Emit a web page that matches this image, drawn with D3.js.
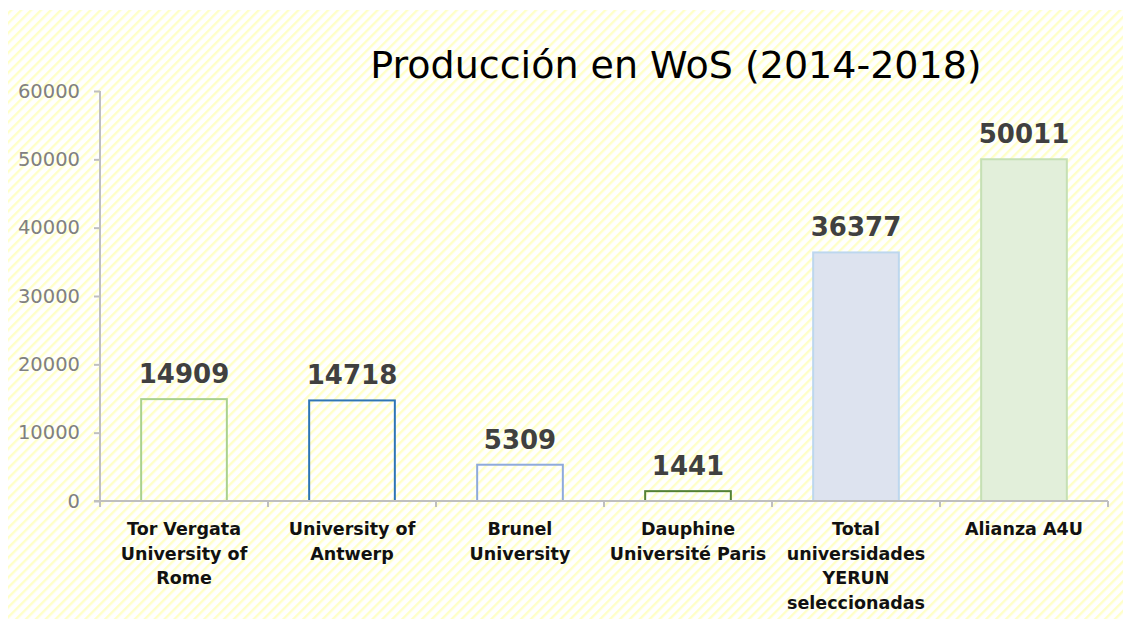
<!DOCTYPE html>
<html lang="es">
<head>
  <meta charset="UTF-8">
  <title>Producción en WoS</title>
  <style>
    html, body { margin: 0; background: #fff; }
    svg { display: block; font-family: 'DejaVu Sans', Verdana, sans-serif; }
  </style>
  <script src="https://cdn.jsdelivr.net/npm/d3@7"></script>
</head>
<body>
  <script>
    const width = 1131
    const height = 627

    // datos
    const categories = [
      ['Tor Vergata', 'University of', 'Rome'],
      ['University of', 'Antwerp'],
      ['Brunel', 'University'],
      ['Dauphine', 'Université Paris'],
      ['Total', 'universidades', 'YERUN', 'seleccionadas'],
      ['Alianza A4U']
    ]
    const values = [14909, 14718, 5309, 1441, 36377, 50011]
    const yTicks = [0, 10000, 20000, 30000, 40000, 50000, 60000]

    const strokes = ['#a9d18e', '#2e75b6', '#8faadc', '#548235', '#bdd7ee', '#c5e0b4']
    const fills = ['none', 'none', 'none', 'none', '#dde3ef', '#e2efda']

    const margin = { left: 100, right: 23, top: 91, bottom: 127 }

    const svg = d3.select('body').append('svg')
      .attr('width', width)
      .attr('height', height)

    // fondo rayado
    const pat = svg.append('defs').append('pattern')
      .attr('id', 'stripes')
      .attr('patternUnits', 'userSpaceOnUse')
      .attr('width', 7)
      .attr('height', 7)
      .attr('patternTransform', 'rotate(45)')
    pat.append('rect').attr('width', 7).attr('height', 7).attr('fill', '#fff')
    pat.append('rect').attr('width', 2.4).attr('height', 7).attr('fill', '#ffffc8')

    svg.append('rect')
      .attr('x', 8).attr('y', 10)
      .attr('width', 1115).attr('height', 609)
      .attr('fill', 'url(#stripes)')

    const idx = d3.range(values.length)
    const x = d3.scaleBand()
      .domain(idx)
      .range([margin.left, width - margin.right])
      .paddingInner(0.49)
      .paddingOuter(0.245)

    const y = d3.scaleLinear()
      .domain([0, 60000])
      .range([height - margin.bottom + 1, margin.top])

    // eje Y
    const gy = svg.append('g')
      .attr('transform', `translate(${margin.left},0)`)
      .call(d3.axisLeft(y).tickValues(yTicks).tickSize(6).tickPadding(14).tickFormat(d3.format('d')))
    gy.select('.domain').remove()
    gy.append('line')
      .attr('y1', y(60000)).attr('y2', y(0) + 6)
      .attr('stroke', '#bfbfbf').attr('stroke-width', 2)
    gy.selectAll('.tick line').attr('stroke', '#bfbfbf').attr('stroke-width', 2)
    gy.selectAll('.tick text')
      .attr('fill', '#808080')
      .style('font-size', '19.5px')
      .style('font-family', "'DejaVu Sans', Verdana, sans-serif")

    // barras
    svg.selectAll('.bar')
      .data(values)
      .join('rect')
      .attr('class', 'bar')
      .attr('x', (d, i) => x(i))
      .attr('y', d => y(d))
      .attr('width', x.bandwidth())
      .attr('height', d => y(0) - y(d))
      .attr('fill', (d, i) => fills[i])
      .attr('stroke', (d, i) => strokes[i])
      .attr('stroke-width', 2)

    // eje X (marcas en los límites de categoría)
    const step = x.step()
    const x0 = x(0) - step * 0.245
    const gx = svg.append('g')
    gx.append('line')
      .attr('x1', margin.left - 6).attr('x2', x0 + step * values.length)
      .attr('y1', y(0)).attr('y2', y(0))
      .attr('stroke', '#bfbfbf').attr('stroke-width', 2)
    gx.selectAll('.xt')
      .data(d3.range(1, values.length + 1))
      .join('line')
      .attr('x1', i => x0 + step * i).attr('x2', i => x0 + step * i)
      .attr('y1', y(0)).attr('y2', y(0) + 6)
      .attr('stroke', '#bfbfbf').attr('stroke-width', 2)

    // etiquetas de categoría
    svg.selectAll('.cat')
      .data(categories)
      .join('text')
      .attr('class', 'cat')
      .attr('text-anchor', 'middle')
      .attr('font-weight', 'bold')
      .attr('font-size', 17.5)
      .attr('fill', '#111')
      .attr('y', y(0) + 34)
      .each(function (lines, i) {
        d3.select(this).selectAll('tspan')
          .data(lines)
          .join('tspan')
          .attr('x', x(i) + x.bandwidth() / 2)
          .attr('dy', (l, j) => j === 0 ? 0 : 24.5)
          .text(l => l)
      })

    // valores
    svg.selectAll('.val')
      .data(values)
      .join('text')
      .attr('class', 'val')
      .attr('text-anchor', 'middle')
      .attr('font-weight', 'bold')
      .attr('font-size', 26)
      .attr('fill', '#404040')
      .attr('x', (d, i) => x(i) + x.bandwidth() / 2)
      .attr('y', d => y(d) - 16)
      .text(d => d)

    // título
    svg.append('text')
      .attr('x', 676)
      .attr('y', 78)
      .attr('text-anchor', 'middle')
      .attr('font-size', 38)
      .attr('fill', '#000')
      .text('Producción en WoS (2014-2018)')
  </script>
</body>
</html>
